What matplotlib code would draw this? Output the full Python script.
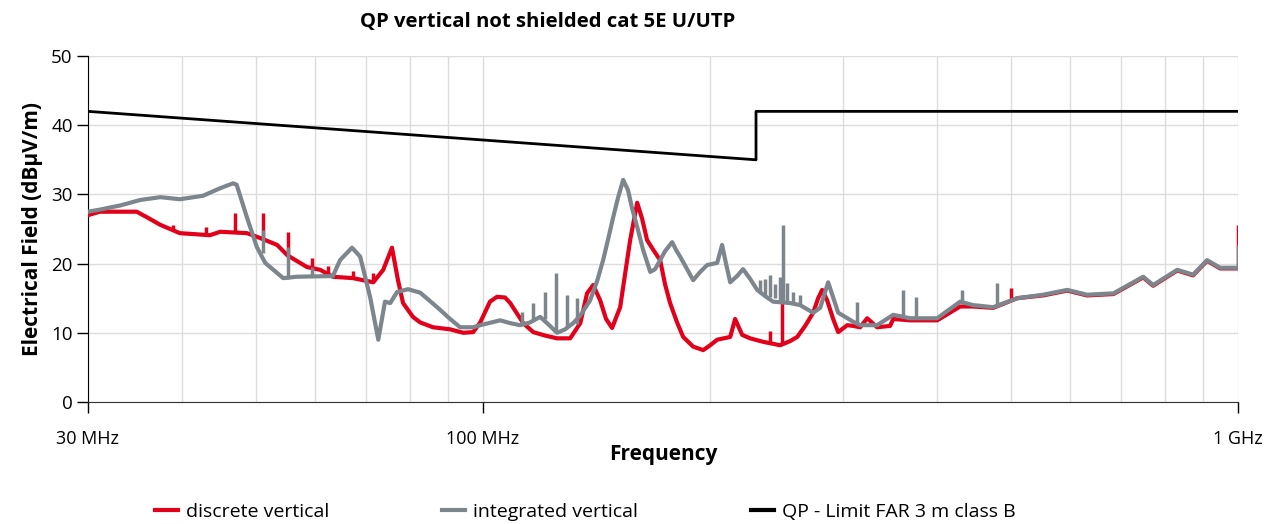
import numpy as np
import matplotlib
matplotlib.use('Agg')
import matplotlib.pyplot as plt

plt.rcParams['font.family'] = ['Open Sans', 'DejaVu Sans']

# frequency in MHz, level in dBuV/m
red_f = [30, 31.1, 34.8, 35.9, 37.4, 39.7, 43.5, 44.9, 48.7, 50.7, 53.4, 55.1, 58.5, 60.9,
         63.3, 67.3, 71.6, 73.8, 75.8, 77.2, 78.4, 80.8, 82.6, 85.9, 90.5, 94.2, 97.1, 99.2,
         102.2, 104.4, 107.0, 108.7, 113.1, 116.6, 120.9, 125.4, 130.5, 134.6, 137.4, 140.0,
         143.0, 145.6, 148.3, 152.0, 154.3, 156.7, 160.1, 162.5, 165.0, 168.1, 171.7, 174.3,
         177.0, 180.8, 184.2, 189.9, 195.8, 200, 204.3, 212.6, 215.8, 220.5, 225.9, 235.0,
         247.6, 255.2, 260.8, 267.2, 273.8, 278.0, 281.4, 285.7, 291.0, 295.5, 303.7, 309.3,
         316, 322.8, 332.8, 346.2, 349.5, 368, 399.6, 428.6, 446, 474, 510, 552, 594, 631,
         684, 749, 772, 831, 872, 910, 947, 1000]
red_v = [27.0, 27.5, 27.5, 26.7, 25.6, 24.4, 24.1, 24.6, 24.4, 23.7, 22.7, 21.2, 19.5, 19.1,
         18.1, 17.9, 17.3, 19.1, 22.3, 17.6, 14.3, 12.3, 11.5, 10.8, 10.5, 10.0, 10.1, 11.5,
         14.5, 15.2, 15.1, 14.3, 11.4, 10.1, 9.6, 9.2, 9.2, 11.4, 15.7, 16.9,
         14.7, 12.0, 10.7, 13.7, 18.5, 23.4, 28.8, 26.5, 23.4, 22.0, 20.5, 17.0,
         14.3, 11.5, 9.4, 8.0, 7.5, 8.2, 9.0, 9.4, 12.0, 9.7, 9.2, 8.7,
         8.2, 8.8, 9.4, 11.0, 12.9, 15.0, 16.2, 14.7, 12.0, 10.1, 11.1, 11.0,
         10.8, 12.1, 10.8, 11.0, 12.0, 11.8, 11.8, 13.8, 13.8, 13.6, 15.0, 15.4, 16.1, 15.4,
         15.6, 18.0, 16.8, 19.0, 18.3, 20.4, 19.3, 19.3]

grey_f = [30, 31.1, 32.4, 33.1, 35.2, 37.4, 39.7, 42.6, 44.9, 46.7, 47.2, 48.7, 50.2, 51.5,
          54.4, 56.7, 63.3, 64.7, 67.1, 68.8, 70.9, 72.7, 74.2, 75.4, 77.0, 79.6, 82.6, 87.0,
          90.5, 93.3, 97.1, 99.2, 105.4, 108.7, 112.0, 115.5, 119.1, 122.7, 125.4, 128.5,
          131.7, 134.6, 138.7, 141.7, 144.3, 146.5, 148.8, 151.0, 153.4, 155.7, 157.6, 160.1,
          163.0, 166.6, 169.1, 171.7, 174.3, 178.1, 180.2, 182.5, 186.4, 189.9, 194.0, 198.2,
          204.3, 207.4, 209.9, 212.6, 217.1, 221.1, 225.9, 230.8, 236.5, 242.3, 255.2, 263.1,
          273.8, 279.7, 286.6, 295.5, 309.3, 316, 332.8, 349.5, 368, 399.6, 428.6, 446, 474,
          510, 552, 594, 631, 684, 749, 772, 831, 872, 910, 947, 1000]
grey_v = [27.5, 27.8, 28.2, 28.4, 29.2, 29.6, 29.3, 29.8, 30.9, 31.6, 31.4, 26.7, 22.4, 20.1,
          17.9, 18.1, 18.2, 20.5, 22.3, 21.0, 15.2, 9.0, 14.5, 14.3, 15.9, 16.3, 15.8, 13.7,
          12.0, 10.8, 10.8, 11.1, 11.8, 11.4, 11.1, 11.5, 12.3, 11.0, 10.0, 10.5,
          11.4, 12.5, 14.7, 17.5, 20.5, 23.5, 26.7, 29.5, 32.1, 30.6, 28.0, 25.3,
          22.0, 18.8, 19.2, 20.5, 21.8, 23.1, 22.0, 21.0, 19.2, 17.6, 18.8, 19.8,
          20.1, 22.7, 20.0, 17.3, 18.2, 19.2, 17.8, 16.2, 15.3, 14.5, 14.3, 14.0,
          12.9, 13.6, 17.3, 12.9, 11.6, 11.1, 11.1, 12.6, 12.1, 12.1, 14.5, 14.0, 13.7,
          15.0, 15.5, 16.2, 15.5, 15.7, 18.1, 16.9, 19.1, 18.4, 20.5, 19.4, 19.4]

# narrow spikes: frequency, base level, peak level
red_spk_f = [38.9, 43.0, 47.0, 51.2, 55.2, 59.4, 62.4, 67.3, 71.6, 240.1, 249.1, 501, 1000]
red_spk_lo = [25.0, 24.1, 24.5, 23.5, 21.0, 19.5, 18.5, 17.9, 17.3, 8.5, 8.4, 14.8, 19.3]
red_spk_hi = [25.6, 25.3, 27.3, 27.3, 24.6, 20.8, 19.6, 18.9, 18.6, 10.2, 14.3, 16.5, 25.6]

grey_spk_f = [51.2, 55.2, 59.4, 112.7, 116.6, 120.9, 125.0, 129.3, 133.3, 232.9, 236.5,
              240.1, 243.8, 247.6, 249.8, 252.9, 257.5, 263.1, 313, 360.3, 375, 431.3, 480, 1000]
grey_spk_lo = [21.5, 17.8, 18.1, 11.2, 11.8, 12.0, 10.3, 10.8, 11.3, 15.8, 15.5,
               15.2, 15.0, 14.8, 14.6, 14.5, 14.3, 14.2, 11.5, 12.2, 12.1, 14.4, 13.7, 19.4]
grey_spk_hi = [24.9, 22.4, 19.5, 13.0, 14.3, 15.9, 18.6, 15.5, 15.0, 17.7, 17.8,
               18.3, 17.0, 18.0, 25.6, 17.2, 15.9, 15.5, 14.5, 16.2, 15.2, 16.2, 17.2, 22.7]

limit_f = [30, 230, 230, 1000]
limit_v = [42, 35, 42, 42]

RED = '#e2001a'
GREY = '#7d868c'

fig = plt.figure(figsize=(12.76, 5.24), dpi=100)
ax = fig.add_axes([88/1276, 1-402/524, 1150/1276, 346/524])

ax.plot(red_f, red_v, color=RED, lw=3, solid_joinstyle='round', zorder=3, label='discrete vertical')
ax.vlines(red_spk_f, red_spk_lo, red_spk_hi, color=RED, lw=2.5, zorder=3)
ax.plot(grey_f, grey_v, color=GREY, lw=3, solid_joinstyle='round', zorder=4, label='integrated vertical')
ax.vlines(grey_spk_f, grey_spk_lo, grey_spk_hi, color=GREY, lw=2.5, zorder=4)
ax.plot(limit_f, limit_v, color='black', lw=2, zorder=5, label='QP - Limit FAR 3 m class B')

ax.set_xscale('log')
ax.set_xlim(30, 1000)
ax.set_ylim(0, 50)
ax.set_yticks(range(0, 51, 10))
ax.set_xticks([30, 100, 1000])
ax.set_xticklabels(['30 MHz', '100 MHz', '1 GHz'])
ax.set_xticks([40, 50, 60, 70, 80, 90, 200, 300, 400, 500, 600, 700, 800, 900], minor=True)
ax.xaxis.set_minor_formatter(matplotlib.ticker.NullFormatter())
ax.tick_params(axis='x', which='minor', length=0)
ax.tick_params(axis='x', which='major', length=8, width=1, direction='out', pad=12, labelsize=13)
ax.tick_params(axis='y', length=8, width=1, pad=3, labelsize=13.5)
ax.grid(True, which='both', color='#dcdcdc', lw=1)
ax.set_axisbelow(True)
for s in ['top', 'right']:
    ax.spines[s].set_visible(False)
ax.spines['left'].set_color('black')
ax.spines['bottom'].set_color('#333333')

ax.set_ylabel('Electrical Field (dBµV/m)', fontsize=15, fontweight='bold', labelpad=6)
ax.set_xlabel('Frequency', fontsize=15, fontweight='bold', labelpad=-3)
fig.text(548/1276, 1-22/524, 'QP vertical not shielded cat 5E U/UTP', ha='center', va='center',
         fontsize=14.6, fontweight='bold')

leg = fig.legend(loc='center', bbox_to_anchor=(585/1276, 1-512/524), ncol=3, frameon=False,
                 fontsize=14, handlelength=1.2, columnspacing=5.8, handletextpad=0.4)
for h in leg.legend_handles:
    h.set_linewidth(3)

fig.savefig('out.png', dpi=100)
